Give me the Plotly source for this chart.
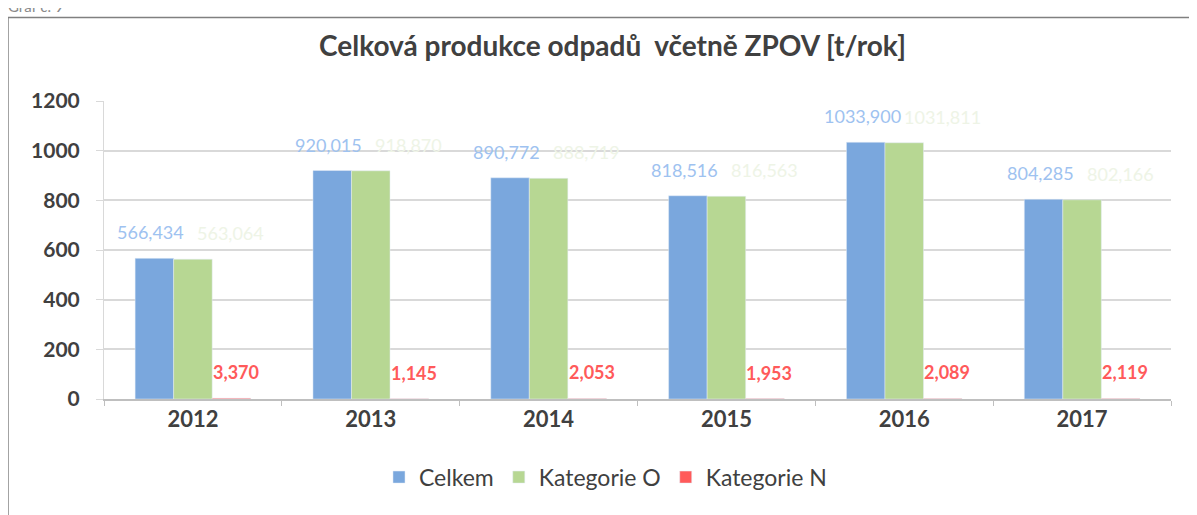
import plotly.graph_objects as go

years = ["2012", "2013", "2014", "2015", "2016", "2017"]
celkem = [566.434, 920.015, 890.772, 818.516, 1033.900, 804.285]
kat_o = [563.064, 918.870, 888.719, 816.563, 1031.811, 802.166]
kat_n = [3.370, 1.145, 2.053, 1.953, 2.089, 2.119]
y_ticks = [0, 200, 400, 600, 800, 1000, 1200]

BLUE = "#7aa7dd"
GREEN = "#b7d793"
RED = "#ff5a5a"
FONT = "Lato"


def fmt(v):
    return f"{v:.3f}".replace(".", ",")


fig = go.Figure()
fig.add_trace(go.Bar(x=years, y=celkem, name="Celkem", marker_color=BLUE))
fig.add_trace(go.Bar(x=years, y=kat_o, name="Kategorie O", marker_color=GREEN))
fig.add_trace(go.Bar(x=years, y=kat_n, name="Kategorie N", marker_color=RED))

annotations = []
for i, v in enumerate(celkem):
    annotations.append(dict(x=i, y=v, text=fmt(v), showarrow=False, xshift=-42, yshift=26,
                            yanchor="middle", font=dict(family=FONT, size=18, color="#9ec2f0")))
for i, v in enumerate(kat_o):
    annotations.append(dict(x=i, y=v, text=fmt(v), showarrow=False, xshift=38, yshift=26,
                            yanchor="middle", font=dict(family=FONT, size=18, color="#eef4e6")))
for i, v in enumerate(kat_n):
    annotations.append(dict(x=i, y=v, text=fmt(v), showarrow=False, xshift=43, yshift=26,
                            yanchor="middle", font=dict(family=FONT, size=18, color=RED, weight="bold")))
annotations.append(dict(xref="paper", yref="paper", x=-0.092, y=1.32, text="Graf č. 9", showarrow=False,
                        xanchor="left", yanchor="middle", font=dict(family=FONT, size=15, color="#8a8a8a")))

fig.update_layout(
    width=1197, height=515,
    margin=dict(l=96, r=34, t=93, b=124),
    paper_bgcolor="white", plot_bgcolor="white",
    barmode="group", bargap=0.35, bargroupgap=0,
    title=dict(text="Celková produkce odpadů  včetně ZPOV [t/rok]", x=0.505, xanchor="center",
               y=0.925, yanchor="middle",
               font=dict(family=FONT, size=28, color="#404040", weight="bold")),
    font=dict(family=FONT, color="#404040"),
    legend=dict(orientation="h", x=0.47, xanchor="center", y=-0.19, yanchor="top",
                font=dict(family=FONT, size=23, color="#404040"), itemwidth=30,
                traceorder="normal"),
    annotations=annotations,
    shapes=[dict(type="rect", xref="paper", yref="paper", x0=-0.09, x1=1.029, y0=-0.45, y1=1.28,
                 line=dict(color="#808080", width=1.5), fillcolor="rgba(0,0,0,0)", layer="below")],
)
fig.update_yaxes(range=[0, 1200], tickvals=y_ticks, ticktext=[str(t) for t in y_ticks],
                 showgrid=True, gridcolor="#d9d9d9", gridwidth=1.5,
                 showline=True, linecolor="#d9d9d9", linewidth=1,
                 ticks="outside", ticklen=7, tickcolor="#d9d9d9",
                 tickfont=dict(family=FONT, size=21, color="#404040", weight="bold"),
                 ticklabelstandoff=12, zeroline=False)
fig.update_xaxes(type="category", range=[-0.5, len(years) - 0.5], showline=True, linecolor="#bfbfbf",
                 linewidth=1.5, ticks="outside",
                 tickson="boundaries", tickcolor="#bfbfbf", ticklen=5,
                 tickfont=dict(family=FONT, size=22, color="#404040", weight="bold"))

fig.write_html("out.html")
